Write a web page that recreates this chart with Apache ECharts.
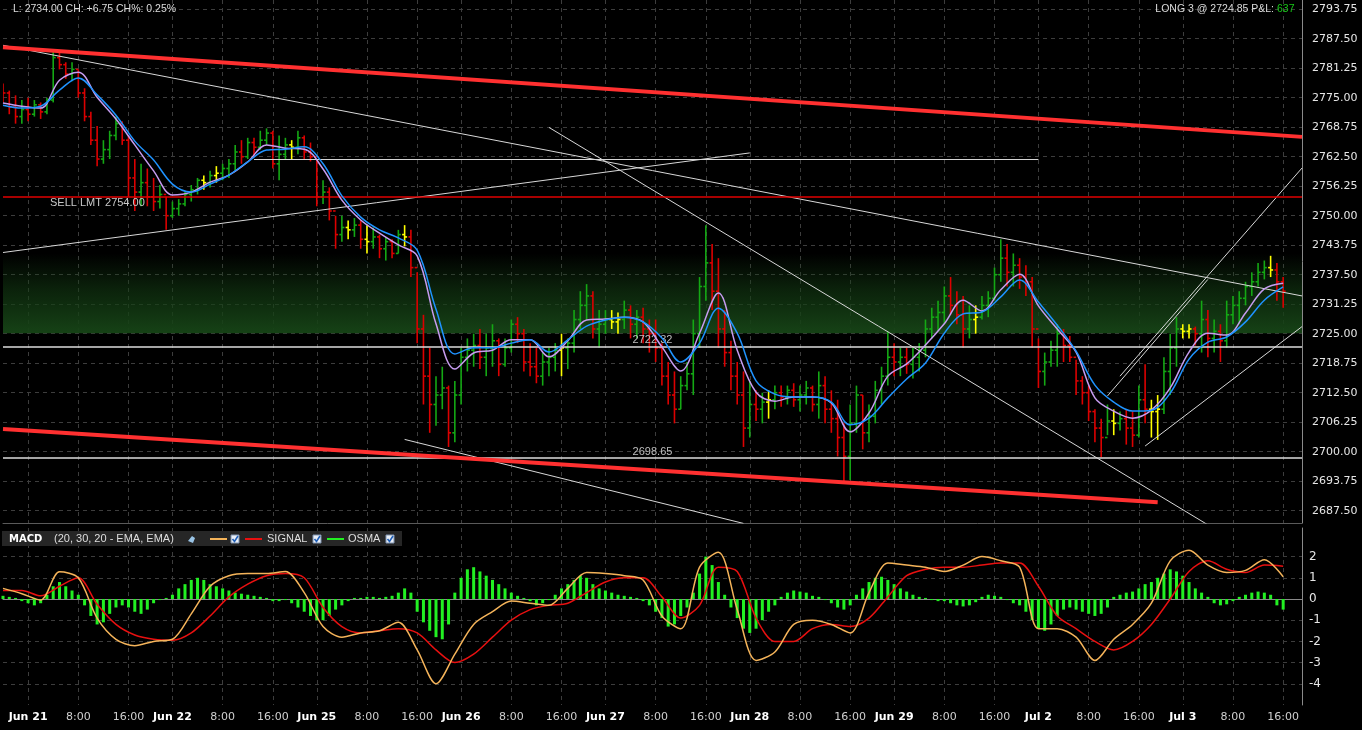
<!DOCTYPE html>
<html><head><meta charset="utf-8">
<script src="https://cdn.jsdelivr.net/npm/echarts@6/dist/echarts.min.js"></script>
<style>html,body{margin:0;padding:0;background:#000;}#c{width:1362px;height:730px;}</style>
</head><body><div id="c"></div>
<script>
// ---------- data ----------
const dayLabels = ['Jun 21','Jun 22','Jun 25','Jun 26','Jun 27','Jun 28','Jun 29','Jul 2','Jul 3'];
const hourLabels = {8:'8:00', 16:'16:00'};
const slotsBeforeFirstDay = 4;   // hourly slots shown before Jun 21 0:00
const slotsPerDay = 23;          // trading hours per session
const slotCount = 208;

const firstOpen = 2777;
const highs = [2778,2776.5,2775.5,2774.5,2775,2774.5,2774,2775,2785,2784.5,
2782.5,2782.5,2781,2777,2772,2769,2766,2768,2771,2770,
2767,2762,2761,2760,2758,2756.5,2754,2753,2753.5,2755,
2756.5,2758,2758.5,2759.5,2760.5,2761,2762,2765,2766,2766.5,
2766.5,2768,2768.5,2768,2767,2766.5,2766,2768,2767,2765.5,
2762,2757.5,2756,2750,2750,2749,2749.5,2749,2748,2747.5,
2746,2745.5,2745,2747,2748,2747,2738,2729,2722,2716,
2718,2714,2715,2722,2724,2725,2726,2725,2727,2724,
2724,2728,2728.5,2726,2723,2722,2721,2722,2723,2725,
2724,2730,2734,2735.5,2734,2730,2730,2730,2729.5,2732,
2731,2730,2730.5,2728,2728,2723,2719,2717,2716,2719,
2728,2737,2748,2744,2741,2730,2723.5,2719,2717,2715,
2713,2712.5,2713,2714,2714,2714,2714.5,2714,2715,2714,
2717,2716,2713,2711,2706,2710,2714,2712,2710,2715,
2718,2725.5,2723,2722,2722,2722,2723,2728,2730.5,2732,
2735,2737,2734,2733,2731,2731,2733,2734,2739,2745,
2744,2742,2741,2739.5,2737,2724,2721,2723.5,2727,2726,
2724.5,2719.5,2716,2714,2709,2707,2710,2709,2708.5,2709,
2708.5,2714,2718.5,2711,2712,2720,2725,2728.5,2727,2727,
2726.5,2732,2730,2728,2727,2732,2733,2734,2736,2738,
2740,2740.5,2741.5,2740,2737];
const lows = [2774,2771.5,2769.5,2769.5,2770,2771,2770.5,2771.5,2774,2781,
2779,2778.5,2775,2770,2765,2760.5,2761,2762,2766,2765,
2754,2751,2752,2752,2751,2751.5,2747,2749.5,2750,2752,
2753,2754.5,2755.5,2756,2757,2757.5,2758,2759.5,2761,2762,
2762.5,2764,2765,2760,2757.5,2762,2762,2763,2762,2761.5,
2752,2752.5,2749,2743,2744.5,2745,2745.5,2743,2742,2743,
2741,2740.5,2741,2742,2743.5,2737,2723,2710,2704,2705.5,
2709,2701,2702,2710,2717,2718,2717.5,2716,2718,2716,
2718,2721,2723,2717,2716,2714.5,2714,2716,2717,2716,
2717.5,2721,2726,2728,2724,2722,2725,2726,2725,2726,
2724,2724,2723,2721,2719,2714,2710,2706,2709,2713,
2712,2722,2732,2730,2722,2718,2713,2710,2701,2703,
2706.5,2706,2707,2709,2709.5,2710,2709.5,2708.5,2710,2708.5,
2707,2706,2704,2699,2693.5,2694,2704,2700.5,2702,2706,
2710,2714,2716,2716,2716.5,2715.5,2717,2720,2724,2725.5,
2727,2729,2727,2722,2724,2725,2728,2728.5,2732,2736,
2735,2735,2734.5,2733,2722,2713.5,2714,2718,2718,2719,
2719,2712,2710,2706.5,2702,2698.8,2703.5,2703.5,2704.5,2701.5,
2701,2703,2706,2703,2702.5,2708,2712,2718,2724,2724,
2722.5,2721,2720,2721,2719,2722,2727,2727,2731,2733,
2735,2736.5,2737,2732,2730.5];
const closes = [2776,2773,2771,2772.5,2771.5,2773.5,2772,2774.5,2783.5,2782,
2780,2781,2776,2771,2766,2762,2764,2767,2769.5,2766,
2758,2755,2757,2754,2753,2754.5,2750,2751.5,2752.5,2754.5,
2755.5,2757.5,2757,2758.5,2759,2760,2761,2763.5,2762.5,2765.5,
2764.5,2766,2767.5,2761,2763,2765,2764.5,2766.5,2763.5,2762.5,
2754,2755,2751,2746,2747.5,2747,2748,2745,2744.5,2745.5,
2743,2744.5,2742,2746,2745.5,2739,2726,2716,2710,2712,
2713.5,2704,2712,2720,2721.5,2722.5,2720,2722,2723.5,2718.5,
2722,2727,2725,2719,2718,2716,2719,2720,2721.5,2722,
2723,2728,2731,2733,2726,2727,2728,2727.5,2728,2730,
2727,2728.5,2726,2725,2722,2716,2712,2709,2714,2716.5,
2725,2735,2740,2734,2726,2721,2716,2712,2705,2710,
2709,2710.5,2711,2712.5,2711.5,2713,2711,2712,2713.5,2710,
2714,2709,2707,2703,2699,2706,2712,2704,2707.5,2713,
2716,2720,2719,2720,2718.5,2720,2721.5,2726,2728.5,2729.5,
2733,2731,2729,2726,2728,2728.5,2731,2732.5,2737.5,2741,
2738,2739.5,2737,2736,2726,2717,2719,2721.5,2725,2722.5,
2720,2715,2712.5,2708.5,2705,2703,2706.5,2706,2707,2705,
2703.5,2711,2709,2708.5,2709,2717,2722,2726,2725.5,2726,
2725,2728,2724,2725.5,2723.5,2729,2731,2732.5,2735,2736,
2738,2739,2738.5,2736,2734];

const maStep = 3; // moving averages / MACD lines read every 3 slots
const maFast = [2773.9,2773.2,2772.8,2778.7,2780.4,2775.1,2770.5,2765.0,2759.5,2754.4,
2755.0,2757.1,2758.6,2761.4,2765.0,2764.3,2764.1,2759.9,2753.3,2749.1,
2746.3,2743.8,2741.5,2727.1,2717.5,2720.9,2721.5,2723.7,2723.7,2720.1,
2723.5,2727.9,2728.1,2728.5,2727.5,2722.2,2717.1,2725.1,2733.6,2721.5,
2712.6,2710.7,2711.6,2711.6,2710.3,2704.2,2708.2,2716.0,2718.6,2722.6,
2727.1,2732.1,2729.8,2734.3,2737.6,2730.9,2726.0,2721.1,2711.4,2708.6,
2707.1,2708.8,2713.5,2721.1,2725.1,2724.7,2729.4,2734.5,2735.7];
const maSlow = [2773.4,2772.8,2773.2,2776.6,2779.2,2775.6,2771.3,2765.8,2761.8,2756.7,
2755.0,2756.7,2758.6,2761.4,2763.9,2764.1,2764.6,2761.0,2754.2,2749.7,
2747.0,2745.3,2742.7,2730.2,2720.7,2722.0,2722.0,2723.0,2723.7,2721.1,
2723.7,2726.6,2727.9,2728.5,2727.5,2724.1,2719.0,2723.0,2730.4,2725.1,
2715.0,2712.2,2711.6,2711.6,2710.5,2705.7,2707.1,2711.4,2715.4,2718.8,
2725.1,2729.2,2729.6,2732.8,2736.4,2731.7,2726.8,2721.3,2714.1,2710.5,
2708.6,2708.8,2712.4,2719.6,2723.2,2724.3,2727.5,2732.1,2734.9];

const macdLine = [0.5,0.25,-0.05,1.28,1.0,-0.9,-1.9,-2.2,-2.0,-1.9,
-0.7,0.6,1.1,1.2,1.2,1.3,0.3,-1.3,-1.8,-1.6,
-1.5,-1.1,-2.4,-4.0,-2.6,-1.2,-0.6,-0.1,-0.2,-0.3,
0.5,1.25,1.2,1.1,0.9,-0.8,-1.4,1.5,2.2,-0.5,
-2.9,-2.5,-1.2,-1.0,-1.2,-1.6,0.3,1.7,1.6,1.5,
1.3,1.6,2.0,1.8,1.5,-1.4,-1.4,-1.8,-2.9,-1.9,
-1.2,-0.2,1.8,2.3,1.6,1.25,1.35,1.85,1.05];
const signalLine = [0.4,0.4,0.15,0.6,1.0,-0.25,-1.2,-1.7,-1.9,-1.95,
-1.6,-0.8,0.1,0.7,1.1,1.2,1.0,-0.4,-1.3,-1.6,
-1.5,-1.4,-1.6,-2.4,-3.0,-2.6,-1.8,-1.0,-0.5,-0.3,
-0.2,0.3,0.8,1.0,1.0,0.1,-0.9,-0.3,1.5,1.3,
-0.9,-2.0,-2.0,-1.4,-1.2,-1.3,-0.9,0.1,1.1,1.4,
1.5,1.5,1.6,1.7,1.7,0.6,-0.8,-1.4,-2.0,-2.4,
-2.0,-1.2,0.0,1.3,1.8,1.4,1.25,1.6,1.55];
const osma = [0.15,0.1,0.05,-0.1,-0.2,-0.3,-0.2,0.2,0.6,0.8,
0.6,0.4,0.2,-0.3,-0.8,-1.2,-1.1,-0.7,-0.4,-0.3,
-0.4,-0.6,-0.7,-0.5,-0.2,-0.05,0.05,0.2,0.5,0.7,
0.9,1.0,0.9,0.7,0.6,0.5,0.4,0.3,0.25,0.2,
0.15,0.1,0.05,-0.1,-0.1,-0.05,-0.2,-0.4,-0.6,-0.8,
-1.0,-1.0,-0.8,-0.5,-0.3,-0.1,0.05,0.05,0.1,0.1,
0.05,0.1,0.15,0.3,0.5,0.3,-0.6,-1.1,-1.5,-1.8,
-1.9,-1.2,0.3,1.0,1.4,1.5,1.3,1.1,0.9,0.7,
0.5,0.3,0.15,0.05,-0.1,-0.3,-0.2,-0.05,0.2,0.5,
0.7,0.9,1.1,1.0,0.7,0.5,0.4,0.3,0.2,0.15,
0.1,0.05,-0.1,-0.3,-0.6,-0.9,-1.3,-1.2,-0.8,-0.4,
0.3,1.2,2.0,1.6,0.8,0.2,-0.4,-0.9,-1.4,-1.6,
-1.4,-1.0,-0.6,-0.3,0.1,0.3,0.4,0.35,0.3,0.15,
0.1,-0.05,-0.2,-0.4,-0.5,-0.3,0.2,0.5,0.8,1.0,
1.05,0.9,0.7,0.5,0.35,0.2,0.1,0.05,-0.05,-0.1,
-0.1,-0.2,-0.3,-0.35,-0.3,-0.15,0.1,0.2,0.15,0.1,
-0.05,-0.2,-0.3,-0.6,-1.0,-1.4,-1.5,-1.2,-0.8,-0.5,
-0.4,-0.5,-0.6,-0.7,-0.8,-0.7,-0.4,0.1,0.2,0.3,
0.35,0.5,0.7,0.8,1.0,1.2,1.4,1.3,1.1,0.8,
0.5,0.3,0.1,-0.2,-0.3,-0.25,-0.1,0.1,0.2,0.3,
0.35,0.3,0.2,-0.3,-0.5];

const sellLimit = 2754.00;
const levelLines = [2722.32, 2698.65];
// [startSlot, startPrice, endSlot, endPrice, kind]
const trendLines = [
 [0,2785.7,207,2766.7,'channel'],
 [0,2704.8,184,2689.3,'channel'],
 [0,2786.1,207,2733.0,'thin'],
 [0,2742.2,119,2763.3,'thin'],
 [87,2768.7,192,2684.5,'thin'],
 [64,2702.6,118,2684.8,'thin'],
 [176,2711.8,192,2736.5,'thin'],
 [178,2716.0,207,2760.1,'thin'],
 [182,2701.2,207,2726.5,'thin'],
 [40,2761.9,165,2761.9,'thin']
];
const valueArea = [2725.1, 2742.0];

// ---------- build ----------
const cats = Array.from({length: slotCount}, (_, i) => String(i));
function slotLabel(i) {
  const h = i - slotsBeforeFirstDay;
  if (h < 0) return '';
  const d = Math.floor(h / slotsPerDay), s = h % slotsPerDay;
  if (s === 0) return dayLabels[d] ? '{d|' + dayLabels[d] + '}' : '';
  if (hourLabels[s]) return '{t|' + hourLabels[s] + '}';
  return '';
}
const isTick = (i) => slotLabel(i) !== '';

const ohlc = closes.map((c, i) => [i, i === 0 ? firstOpen : closes[i - 1], c, lows[i], highs[i]]);
const stepData = (arr) => arr.map((v, k) => [k * maStep, v]);

const FONT = 'DejaVu Sans';
const TFONT = 'Liberation Sans';
const gridCommon = {left: 3, right: 60, outerBoundsMode: 'none', containLabel: false};
const dash = {color: '#3d3d3d', type: [4, 4], width: 1};

function xAxisFor(gridIndex, opts) {
  return Object.assign({
    type: 'category', gridIndex, data: cats, boundaryGap: false,
    axisLine: {show: false}, axisTick: {show: false}, axisLabel: {show: false},
    splitLine: {show: false}
  }, opts);
}
const vSplit = {show: true, interval: (i) => isTick(i), lineStyle: dash};

const option = {
  backgroundColor: '#000',
  animation: false,
  grid: [
    Object.assign({top: 0, height: 523}, gridCommon),          // price data
    Object.assign({top: -20.3, height: 531}, gridCommon),      // price scale
    Object.assign({top: 528, height: 177}, gridCommon),        // macd data
    Object.assign({top: 556.6, height: 127.2}, gridCommon)     // macd scale
  ],
  xAxis: [
    xAxisFor(0, {splitLine: vSplit, axisLine: {show: true, lineStyle: {color: '#5a5a5a'}}}),
    xAxisFor(1, {show: false}),
    xAxisFor(2, {splitLine: vSplit, axisLine: {show: true, lineStyle: {color: '#8a8a8a'}},
      axisLabel: {show: true, interval: (i) => isTick(i), margin: 7,
        formatter: (v) => slotLabel(parseInt(v, 10)),
        rich: {d: {color: '#ffffff', fontWeight: 'bold', fontSize: 11, fontFamily: FONT},
               t: {color: '#cfcfcf', fontSize: 11, fontFamily: FONT}}}}),
    xAxisFor(3, {show: false})
  ],
  yAxis: [
    {type: 'value', gridIndex: 0, position: 'right', min: 2684.89, max: 2795.70,
      axisLine: {show: true, lineStyle: {color: '#8a8a8a'}}, axisLabel: {show: false},
      axisTick: {show: false}, splitLine: {show: false}},
    {type: 'value', gridIndex: 1, position: 'right', min: 2687.5, max: 2800, interval: 6.25,
      axisLine: {show: false}, axisTick: {show: false},
      axisLabel: {show: true, showMaxLabel: false, margin: 10, color: '#e6e6e6', fontSize: 11, fontFamily: FONT,
        formatter: (v) => v.toFixed(2)},
      splitLine: {show: true, lineStyle: dash}},
    {type: 'value', gridIndex: 2, position: 'right', min: -5, max: 3.349,
      axisLine: {show: true, lineStyle: {color: '#8a8a8a'}}, axisLabel: {show: false},
      axisTick: {show: false}, splitLine: {show: false}},
    {type: 'value', gridIndex: 3, position: 'right', min: -4, max: 2, interval: 1,
      axisLine: {show: false}, axisTick: {show: false},
      axisLabel: {show: true, margin: 7, color: '#e6e6e6', fontSize: 12, fontFamily: FONT},
      splitLine: {show: true, lineStyle: dash}}
  ],
  series: []
};

// value-area band + price levels (attached to the fast MA series)
const levelMarks = [
  {yAxis: sellLimit, lineStyle: {color: '#e00000', width: 1.5, type: 'solid'},
   label: {show: true, position: 'insideStartBottom', formatter: 'SELL LMT ' + sellLimit.toFixed(2),
     color: '#c8c8c8', fontSize: 11, fontFamily: TFONT, padding: [0, 0, 0, 46], distance: 1}}
].concat(levelLines.map(v => ({yAxis: v, lineStyle: {color: '#dcdcdc', width: 1.5, type: 'solid'},
   label: {show: true, position: 'middle', formatter: v.toFixed(2), color: '#bdbdbd', fontSize: 11,
     fontFamily: TFONT, distance: 1}})));

option.series.push({
  type: 'custom', xAxisIndex: 0, yAxisIndex: 0, z: 3, clip: true,
  encode: {x: 0, y: [1, 2, 3, 4]},
  data: ohlc,
  renderItem: function (params, api) {
    const i = api.value(0), o = api.value(1), c = api.value(2);
    const po = api.coord([i, o]), pc = api.coord([i, c]);
    const pl = api.coord([i, api.value(3)]), ph = api.coord([i, api.value(4)]);
    const col = Math.abs(c - o) < 0.6 ? '#ffff00' : (c > o ? '#14a814' : '#dc0000');
    const st = {stroke: col, lineWidth: 1.6};
    return {type: 'group', children: [
      {type: 'line', shape: {x1: ph[0], y1: ph[1], x2: pl[0], y2: pl[1]}, style: st},
      {type: 'line', shape: {x1: po[0] - 2.5, y1: po[1], x2: po[0], y2: po[1]}, style: st},
      {type: 'line', shape: {x1: pc[0], y1: pc[1], x2: pc[0] + 2.5, y2: pc[1]}, style: st}
    ]};
  }
});

option.series.push({
  type: 'line', xAxisIndex: 0, yAxisIndex: 0, z: 5, data: stepData(maFast),
  symbol: 'none', smooth: 0.35, lineStyle: {color: '#c69cf0', width: 1.5},
  markArea: {silent: true, data: [[{yAxis: valueArea[0],
      itemStyle: {color: new echarts.graphic.LinearGradient(0, 0, 0, 1, [
        {offset: 0, color: 'rgba(20,62,20,0)'}, {offset: 0.45, color: 'rgba(20,62,20,0.55)'},
        {offset: 1, color: 'rgba(22,66,22,1)'}])}}, {yAxis: valueArea[1]}]]},
  markLine: {silent: true, symbol: ['none', 'none'], data: levelMarks}
});
option.series.push({
  type: 'line', xAxisIndex: 0, yAxisIndex: 0, z: 5, data: stepData(maSlow),
  symbol: 'none', smooth: 0.35, lineStyle: {color: '#1f93ff', width: 1.5}
});

trendLines.forEach(t => {
  const thick = t[4] === 'channel';
  option.series.push({
    type: 'line', xAxisIndex: 0, yAxisIndex: 0, z: thick ? 6 : 4, silent: true, symbol: 'none',
    data: [[t[0], t[1]], [t[2], t[3]]],
    lineStyle: thick ? {color: '#ff3030', width: 4} : {color: '#d8d8d8', width: 1}
  });
});

// MACD panel
option.series.push({
  type: 'bar', xAxisIndex: 2, yAxisIndex: 2, data: osma, barWidth: 3,
  itemStyle: {color: '#22f022'}, z: 2
});
option.series.push({
  type: 'line', xAxisIndex: 2, yAxisIndex: 2, data: stepData(signalLine), symbol: 'none', smooth: 0.3,
  lineStyle: {color: '#e81010', width: 1.5}, z: 3
});
option.series.push({
  type: 'line', xAxisIndex: 2, yAxisIndex: 2, data: stepData(macdLine), symbol: 'none', smooth: 0.3,
  lineStyle: {color: '#f5b45a', width: 1.5}, z: 4
});

function txt(x, y, text, color, extra) {
  return Object.assign({type: 'text', x, y, z: 100, silent: true,
    style: Object.assign({text, fill: color, font: '11px ' + TFONT, textVerticalAlign: 'middle', verticalAlign: 'middle'}, extra || {})});
}
function checkbox(x) {
  return [{type: 'rect', z: 100, shape: {x: x, y: 535, width: 8, height: 8}, style: {fill: '#e9eef6', stroke: '#7f93b0', lineWidth: 1}},
          {type: 'polyline', z: 101, shape: {points: [[x + 1.5, 539], [x + 3.5, 541.5], [x + 7, 536]]}, style: {stroke: '#1f5fb8', lineWidth: 1.6, fill: null}}];
}
option.graphic = [
  txt(13, 9, 'L: 2734.00 CH: +6.75 CH%: 0.25%', '#dcdcdc', {font: '10.5px ' + TFONT}),
  txt(1274, 9, 'LONG 3 @ 2724.85 P&L:', '#dcdcdc', {textAlign: 'right', align: 'right', font: '10.5px ' + TFONT}),
  txt(1277, 9, '637', '#18c818', {font: '10.5px ' + TFONT}),
  {type: 'rect', z: 99, shape: {x: 2, y: 531, width: 400, height: 15}, style: {fill: '#262626'}},
  txt(9, 539, 'MACD', '#ffffff', {font: 'bold 10px ' + FONT}),
  txt(54, 539, '(20, 30, 20 - EMA, EMA)', '#dedede'),
  {type: 'polygon', z: 100, shape: {points: [[188, 541], [192, 536], [195, 538], [193, 543]]}, style: {fill: '#9ac4e6'}},
  {type: 'line', z: 100, shape: {x1: 210, y1: 539, x2: 227, y2: 539}, style: {stroke: '#f5b45a', lineWidth: 2}},
  {type: 'line', z: 100, shape: {x1: 245, y1: 539, x2: 262, y2: 539}, style: {stroke: '#e81010', lineWidth: 2}},
  txt(267, 539, 'SIGNAL', '#dedede'),
  {type: 'line', z: 100, shape: {x1: 327, y1: 539, x2: 344, y2: 539}, style: {stroke: '#22f022', lineWidth: 2}},
  txt(348, 539, 'OSMA', '#dedede')
].concat(checkbox(231), checkbox(313), checkbox(386));

const chart = echarts.init(document.getElementById('c'), null, {renderer: 'canvas'});
chart.setOption(option);
</script>
</body></html>
